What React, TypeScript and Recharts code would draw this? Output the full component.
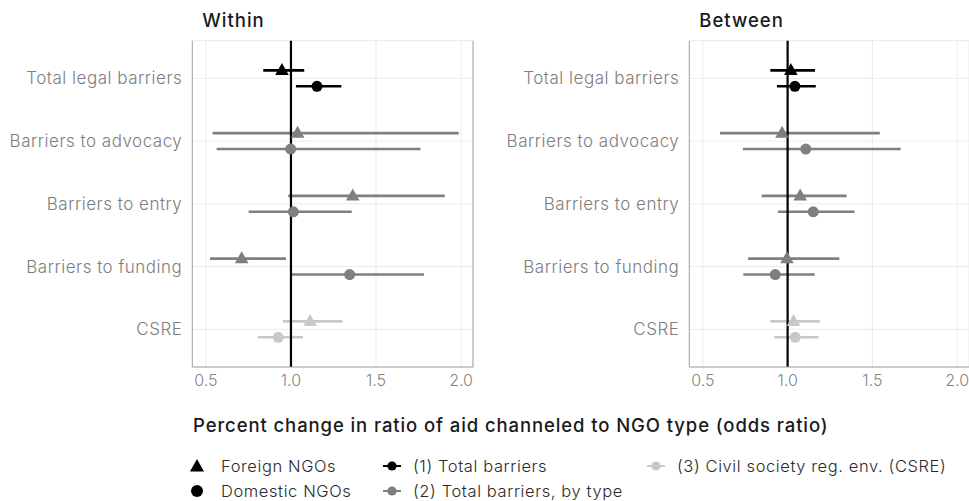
import React from "react";
import {
  ScatterChart,
  Scatter,
  XAxis,
  YAxis,
  CartesianGrid,
  ErrorBar,
  ReferenceLine,
} from "recharts";

const FONT = "Inter, 'Open Sans', sans-serif";
const BLACK = "#000000";
const GREY = "#7f7f7f";
const LIGHT = "#c8c8c8";
const GRID = "#ebebeb";
const BORDER = "#a3a3a3";

const categories = [
  "Total legal barriers",
  "Barriers to advocacy",
  "Barriers to entry",
  "Barriers to funding",
  "CSRE",
];
// which model each row comes from (drives colour)
const categoryModel = [1, 2, 2, 2, 3];
const models = [
  { id: 1, label: "(1) Total barriers", color: BLACK },
  { id: 2, label: "(2) Total barriers, by type", color: GREY },
  { id: 3, label: "(3) Civil society reg. env. (CSRE)", color: LIGHT },
];
const xTicks = [0.5, 1.0, 1.5, 2.0];

// Within
const withinForeignEst = [0.947, 1.039, 1.363, 0.71, 1.112];
const withinForeignLo = [0.837, 0.539, 0.984, 0.524, 0.953];
const withinForeignHi = [1.078, 1.986, 1.904, 0.971, 1.302];
const withinDomesticEst = [1.153, 0.998, 1.014, 1.345, 0.925];
const withinDomesticLo = [1.029, 0.563, 0.751, 1.006, 0.804];
const withinDomesticHi = [1.296, 1.761, 1.357, 1.782, 1.071];

// Between
const betweenForeignEst = [1.019, 0.967, 1.074, 0.996, 1.035];
const betweenForeignLo = [0.898, 0.601, 0.847, 0.767, 0.898];
const betweenForeignHi = [1.162, 1.544, 1.348, 1.305, 1.191];
const betweenDomesticEst = [1.043, 1.107, 1.151, 0.927, 1.045];
const betweenDomesticLo = [0.937, 0.736, 0.943, 0.739, 0.921];
const betweenDomesticHi = [1.166, 1.667, 1.395, 1.16, 1.182];

const DODGE = 0.127;

function rows(est: number[], lo: number[], hi: number[], offset: number) {
  return est.map((e, i) => ({
    y: i + offset,
    x: e,
    err: [e - lo[i], hi[i] - e],
    model: categoryModel[i],
  }));
}

const triangle = (color: string) => (p: any) =>
  <polygon points={`${p.cx},${p.cy - 7.5} ${p.cx + 6.8},${p.cy + 4.5} ${p.cx - 6.8},${p.cy + 4.5}`} fill={color} />;
const dot = (color: string) => (p: any) => <circle cx={p.cx} cy={p.cy} r={5.5} fill={color} />;

function Panel({
  title,
  left,
  width,
  axisWidth,
  foreign,
  domestic,
  rightBorder,
}: {
  title: string;
  left: number;
  width: number;
  axisWidth: number;
  foreign: any[];
  domestic: any[];
  rightBorder: boolean;
}) {
  const series: { data: any[]; shape: any; color: string; key: string }[] = [];
  models.forEach((m) => {
    series.push({ data: foreign.filter((r) => r.model === m.id), shape: triangle(m.color), color: m.color, key: "f" + m.id });
    series.push({ data: domestic.filter((r) => r.model === m.id), shape: dot(m.color), color: m.color, key: "d" + m.id });
  });
  return (
    <div style={{ position: "absolute", left, top: 0 }}>
      <div
        style={{
          position: "absolute",
          left: axisWidth + 10,
          top: 9,
          fontFamily: FONT,
          fontSize: 18.5,
          fontWeight: 500,
          letterSpacing: 1,
          color: "#1a1a1a",
          whiteSpace: "nowrap",
        }}
      >
        {title}
      </div>
      <ScatterChart
        width={width}
        height={501}
        margin={{ top: 40.7, right: rightBorder ? 7 : 0, bottom: 104, left: 0 }}
        style={{ fontFamily: FONT }}
      >
        <CartesianGrid stroke={GRID} strokeWidth={1} />
        <XAxis
          type="number"
          dataKey="x"
          domain={[0.42, 2.07]}
          allowDataOverflow
          ticks={xTicks}
          tickFormatter={(v: number) => v.toFixed(1)}
          tick={{ fontSize: 16, fill: "#858585", fontWeight: 300 }}
          tickLine={false}
          axisLine={{ stroke: BORDER }}
          height={30}
        />
        <YAxis
          type="number"
          dataKey="y"
          domain={[-0.6, 4.6]}
          reversed
          allowDataOverflow
          ticks={[0, 1, 2, 3, 4]}
          tickFormatter={(v: number) => categories[v] ?? ""}
          tick={{ fontSize: 17, fill: "#7d7d7d", fontWeight: 300, letterSpacing: 0.5 }}
          tickLine={false}
          tickMargin={4}
          axisLine={{ stroke: BORDER }}
          width={axisWidth}
        />
        {rightBorder && <ReferenceLine x={2.07} stroke={BORDER} />}
        {series.map((s) => (
          <Scatter
            key={s.key}
            data={s.data}
            shape={s.shape}
            fill={s.color}
            legendType="none"
            isAnimationActive={false}
          >
            <ErrorBar dataKey="err" direction="x" width={0} stroke={s.color} strokeWidth={2.6} isAnimationActive={false} />
          </Scatter>
        ))}
        <ReferenceLine x={1} stroke={BLACK} strokeWidth={2.2} />
      </ScatterChart>
    </div>
  );
}

function LegendGlyphShape({ shape }: { shape: "triangle" | "circle" }) {
  return (
    <svg width={18} height={18} style={{ display: "block" }}>
      {shape === "triangle" ? <polygon points="9,2 16,14.5 2,14.5" fill={BLACK} /> : <circle cx={9} cy={9} r={6} fill={BLACK} />}
    </svg>
  );
}

function LegendGlyphModel({ color }: { color: string }) {
  return (
    <svg width={18} height={18} style={{ display: "block" }}>
      <line x1={0} y1={9} x2={18} y2={9} stroke={color} strokeWidth={2} />
      <circle cx={9} cy={9} r={4.6} fill={color} />
    </svg>
  );
}

function LegendItem({ x, y, glyph, label, gap }: { x: number; y: number; glyph: React.ReactNode; label: string; gap: number }) {
  return (
    <div style={{ position: "absolute", left: x - 9, top: y - 9, display: "flex", alignItems: "center", whiteSpace: "nowrap" }}>
      {glyph}
      <span
        style={{
          marginLeft: gap,
          fontFamily: FONT,
          fontSize: 16.5,
          fontWeight: 300,
          letterSpacing: 0.6,
          color: "#2a2a2a",
          lineHeight: "18px",
        }}
      >
        {label}
      </span>
    </div>
  );
}

export default function App() {
  const wf = rows(withinForeignEst, withinForeignLo, withinForeignHi, -DODGE);
  const wd = rows(withinDomesticEst, withinDomesticLo, withinDomesticHi, DODGE);
  const bf = rows(betweenForeignEst, betweenForeignLo, betweenForeignHi, -DODGE);
  const bd = rows(betweenDomesticEst, betweenDomesticLo, betweenDomesticHi, DODGE);
  return (
    <div style={{ position: "absolute", left: 0, top: 0, width: 969, height: 501, background: "#fff", overflow: "hidden" }}>
      <Panel title="Within" left={0} width={480} axisWidth={192.3} foreign={wf} domestic={wd} rightBorder />
      <Panel title="Between" left={480} width={489} axisWidth={209.3} foreign={bf} domestic={bd} rightBorder={false} />
      <div
        style={{
          position: "absolute",
          left: 193,
          top: 414,
          fontFamily: FONT,
          fontSize: 18.5,
          fontWeight: 500,
          letterSpacing: 0.9,
          color: "#1a1a1a",
          whiteSpace: "nowrap",
        }}
      >
        Percent change in ratio of aid channeled to NGO type (odds ratio)
      </div>
      <LegendItem x={197} y={466} glyph={<LegendGlyphShape shape="triangle" />} label="Foreign NGOs" gap={15} />
      <LegendItem x={197} y={491} glyph={<LegendGlyphShape shape="circle" />} label="Domestic NGOs" gap={15} />
      <LegendItem x={392} y={466} glyph={<LegendGlyphModel color={models[0].color} />} label={models[0].label} gap={12} />
      <LegendItem x={392} y={491} glyph={<LegendGlyphModel color={models[1].color} />} label={models[1].label} gap={12} />
      <LegendItem x={656} y={466} glyph={<LegendGlyphModel color={models[2].color} />} label={models[2].label} gap={12} />
    </div>
  );
}
